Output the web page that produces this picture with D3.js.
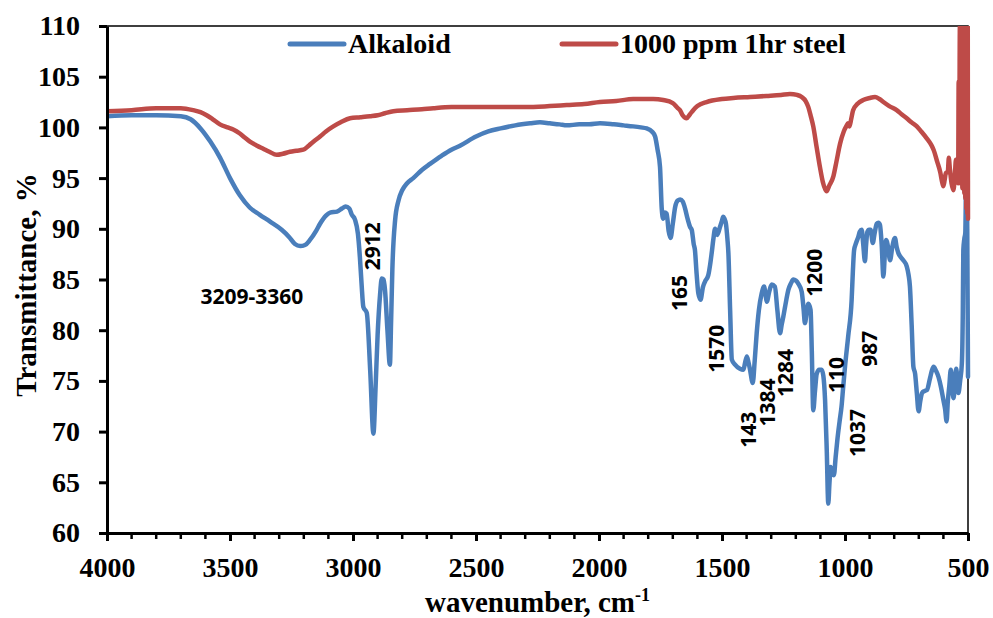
<!DOCTYPE html>
<html>
<head>
<meta charset="utf-8">
<script src="https://cdn.jsdelivr.net/npm/d3@7"></script>
<style>
  body { margin: 0; background: #fff; }
  svg { display: block; }
</style>
</head>
<body>
<svg width="993" height="618"></svg>
<script>
// wavenumber (cm-1) and transmittance (%)
const alkWn = [4000, 3900, 3800, 3700, 3660, 3620, 3580, 3540, 3500, 3460, 3420, 3380, 3337, 3290, 3260, 3236, 3215, 3195, 3175, 3150, 3134, 3110, 3093, 3065, 3045, 3030, 3015, 3005, 2992, 2980, 2972, 2965, 2958, 2944, 2930, 2917, 2908, 2900, 2890, 2883, 2876, 2870, 2860, 2850, 2845, 2840, 2829, 2815, 2800, 2780, 2755, 2720, 2687, 2640, 2600, 2565, 2500, 2450, 2400, 2340, 2280, 2240, 2200, 2160, 2131, 2080, 2040, 1996, 1940, 1900, 1861, 1830, 1806, 1785, 1772, 1762, 1752, 1745, 1739, 1732, 1725, 1717, 1709, 1700, 1690, 1680, 1670, 1660, 1650, 1640, 1630, 1623, 1615, 1610, 1603, 1596, 1587, 1578, 1569, 1556, 1548, 1542, 1535, 1528, 1519, 1508, 1500, 1495, 1490, 1484, 1478, 1474, 1467, 1460, 1447, 1427, 1413, 1406, 1399, 1392, 1386, 1375, 1367, 1359, 1350, 1339, 1329, 1323, 1318, 1308, 1298, 1285, 1275, 1264, 1257, 1251, 1240, 1230, 1220, 1210, 1200, 1190, 1176, 1168, 1163, 1156, 1149, 1140, 1135, 1129, 1122, 1115, 1105, 1095, 1088, 1081, 1074, 1068, 1063, 1058, 1052, 1045, 1038, 1031, 1022, 1014, 1007, 1000, 987, 973, 968, 963, 955, 946, 940, 932, 926, 919, 914, 909, 902, 896, 887, 880, 871, 864, 858, 851, 844, 838, 833, 825, 817, 807, 797, 790, 783, 773, 763, 749, 742, 736, 729, 722, 715, 708, 701, 694, 687, 677, 667, 655, 647, 640, 630, 620, 610, 600, 593, 587, 582, 576, 570, 565, 559, 553, 548, 543, 539, 532, 525, 521, 519, 515, 511, 507, 503, 500];
const alkT = [101.1, 101.2, 101.2, 101.1, 100.8, 99.9, 98.6, 97.0, 95.0, 93.3, 92.1, 91.4, 90.7, 89.9, 89.2, 88.5, 88.3, 88.4, 88.9, 89.8, 90.5, 91.3, 91.6, 91.7, 92.0, 92.2, 92.0, 91.4, 90.9, 89.5, 87.2, 84.5, 82.3, 81.7, 76.0, 69.8, 74.5, 79.5, 83.5, 85.1, 85.0, 84.0, 80.0, 76.6, 81.0, 86.0, 90.8, 92.8, 93.8, 94.5, 95.0, 95.8, 96.4, 97.2, 97.8, 98.2, 99.1, 99.6, 99.9, 100.2, 100.4, 100.5, 100.4, 100.3, 100.2, 100.3, 100.3, 100.4, 100.3, 100.2, 100.1, 100.0, 99.9, 99.6, 99.1, 97.8, 96.1, 92.0, 91.0, 91.6, 91.5, 89.8, 89.1, 90.5, 92.2, 92.8, 92.9, 92.7, 92.0, 91.0, 90.2, 89.9, 88.5, 87.9, 85.5, 83.6, 83.0, 84.2, 84.8, 85.4, 86.5, 87.6, 89.0, 90.0, 89.4, 90.2, 90.8, 91.2, 91.0, 90.5, 89.0, 87.6, 82.0, 77.1, 76.6, 76.2, 76.1, 76.8, 77.4, 76.8, 76.1, 74.8, 77.0, 79.7, 82.0, 83.6, 84.3, 83.5, 82.8, 83.8, 84.5, 84.3, 82.0, 79.7, 80.6, 81.3, 82.8, 84.0, 84.6, 85.0, 84.9, 84.6, 83.8, 82.0, 80.7, 81.7, 82.6, 82.0, 78.0, 72.1, 74.0, 75.7, 76.1, 76.1, 75.5, 73.1, 68.0, 62.9, 65.0, 66.5, 66.0, 65.7, 67.5, 69.2, 71.0, 72.5, 74.5, 76.4, 79.4, 83.0, 85.8, 87.9, 88.6, 89.2, 89.7, 89.9, 88.5, 86.8, 88.5, 89.7, 89.9, 89.9, 88.6, 89.5, 90.5, 90.6, 90.4, 88.5, 85.3, 87.5, 88.9, 88.2, 86.9, 88.3, 89.1, 88.2, 87.6, 87.2, 86.9, 86.3, 85.5, 84.3, 80.5, 76.4, 75.7, 73.8, 72.0, 73.0, 73.8, 74.0, 74.1, 75.2, 76.0, 76.4, 76.0, 75.4, 74.4, 73.1, 72.2, 71.0, 73.0, 74.5, 76.1, 74.8, 73.3, 74.7, 76.2, 75.0, 73.8, 75.0, 76.7, 82.0, 87.9, 89.0, 89.6, 95.8, 90.0, 75.4];

const steelWn = [4000, 3900, 3800, 3757, 3700, 3649, 3620, 3595, 3570, 3541, 3510, 3487, 3460, 3440, 3419, 3390, 3365, 3340, 3310, 3285, 3256, 3230, 3202, 3180, 3160, 3134, 3110, 3080, 3050, 3012, 2970, 2931, 2900, 2870, 2836, 2780, 2720, 2673, 2600, 2538, 2470, 2402, 2300, 2200, 2131, 2060, 1996, 1930, 1861, 1780, 1739, 1700, 1680, 1671, 1660, 1644, 1630, 1617, 1600, 1563, 1500, 1454, 1386, 1319, 1260, 1224, 1195, 1176, 1160, 1149, 1140, 1129, 1115, 1102, 1090, 1075, 1065, 1047, 1035, 1020, 1005, 993, 988, 982, 975, 967, 950, 926, 900, 878, 860, 844, 820, 790, 770, 749, 730, 708, 690, 667, 650, 640, 625, 613, 605, 600, 595, 590, 582, 578, 574, 567, 559, 553, 549, 543, 540, 538, 536, 533, 531, 529, 527, 525, 523, 521, 519, 517, 515, 513, 511, 509, 507, 505, 503, 501, 500];
const steelT = [101.6, 101.7, 101.9, 101.9, 101.9, 101.7, 101.5, 101.2, 100.8, 100.3, 100.0, 99.8, 99.4, 99.0, 98.6, 98.2, 97.9, 97.6, 97.3, 97.4, 97.6, 97.7, 97.8, 98.2, 98.6, 99.1, 99.6, 100.1, 100.5, 100.9, 101.0, 101.1, 101.2, 101.4, 101.6, 101.7, 101.8, 101.9, 102.0, 102.0, 102.0, 102.0, 102.0, 102.1, 102.2, 102.3, 102.5, 102.6, 102.8, 102.8, 102.7, 102.4, 101.9, 101.7, 101.2, 100.9, 101.3, 101.7, 102.1, 102.5, 102.8, 102.9, 103.0, 103.1, 103.2, 103.3, 103.2, 103.0, 102.6, 102.0, 101.2, 100.1, 98.0, 96.1, 94.6, 93.7, 94.2, 95.2, 96.6, 98.4, 99.6, 100.2, 100.4, 100.1, 100.8, 101.7, 102.3, 102.7, 102.9, 103.0, 102.8, 102.5, 102.1, 101.7, 101.3, 100.9, 100.5, 100.1, 99.6, 98.9, 98.3, 97.8, 96.6, 95.6, 94.6, 94.2, 94.8, 95.5, 95.6, 97.0, 96.0, 94.5, 93.8, 95.5, 96.8, 95.5, 94.5, 104.5, 95.0, 110.0, 94.5, 110.0, 95.0, 110.0, 94.0, 110.0, 95.0, 110.0, 93.5, 110.0, 93.0, 110.0, 92.0, 110.0, 91.5, 110.0, 91.0];

const seriesNames = ["Alkaloid", "1000 ppm 1hr steel"];
const seriesColors = ["#4A7EBB", "#BE4B48"];

const xTicks = [4000, 3500, 3000, 2500, 2000, 1500, 1000, 500];
const xMinorTicks = d3.range(600, 4000, 100).filter((v) => v % 500 !== 0);
const yTicks = [60, 65, 70, 75, 80, 85, 90, 95, 100, 105, 110];

// peak annotations: text, wavenumber and transmittance where the label starts
const peakText = ["2912", "165", "1570", "143", "1384", "1284", "1200", "110", "1037", "987"];
const peakWn = [2923, 1671, 1524, 1394, 1317, 1244, 1126, 1033, 951, 902];
const peakT = [85.9, 81.9, 75.8, 68.4, 70.5, 73.4, 83.3, 73.8, 67.5, 76.4];
const bandText = "3209-3360";
const bandWn = 3411, bandT = 82.6;

const svg = d3.select("svg");
const plotLeft = 107, plotRight = 968, plotTop = 26, plotBottom = 533;

const x = d3.scaleLinear().domain([4000, 500]).range([plotLeft, plotRight]);
const y = d3.scaleLinear().domain([60, 110]).range([plotBottom, plotTop]);

const serif = "'Liberation Serif', 'Times New Roman', serif";
const sans = "'Open Sans', 'Liberation Sans', sans-serif";

svg.append("clipPath").attr("id", "plot")
  .append("rect")
  .attr("x", plotLeft).attr("y", plotTop)
  .attr("width", plotRight - plotLeft + 3).attr("height", plotBottom - plotTop);

// frame top/right
svg.append("path")
  .attr("d", `M${plotLeft},${plotTop}H${plotRight}V${plotBottom}`)
  .attr("fill", "none").attr("stroke", "#000").attr("stroke-width", 1.5);

const line = d3.line()
  .x((d) => x(d[0]))
  .y((d) => y(d[1]))
  .curve(d3.curveMonotoneX);

const allSeries = [
  d3.zip(alkWn, alkT),
  d3.zip(steelWn, steelT)
];

svg.append("g").attr("clip-path", "url(#plot)")
  .selectAll("path")
  .data(allSeries)
  .join("path")
  .attr("d", line)
  .attr("fill", "none")
  .attr("stroke", (d, i) => seriesColors[i])
  .attr("stroke-width", 4.5)
  .attr("stroke-linejoin", "round")
  .attr("stroke-linecap", "round");

// minor x ticks
svg.append("g")
  .selectAll("line")
  .data(xMinorTicks)
  .join("line")
  .attr("x1", (d) => x(d)).attr("x2", (d) => x(d))
  .attr("y1", plotBottom).attr("y2", plotBottom + 6)
  .attr("stroke", "#000").attr("stroke-width", 2.5);

// x axis
const xAxis = svg.append("g")
  .attr("transform", `translate(0,${plotBottom})`)
  .call(d3.axisBottom(x).tickValues(xTicks).tickFormat(d3.format("d")).tickSize(8).tickSizeOuter(0));
xAxis.select(".domain").attr("stroke-width", 3);
xAxis.selectAll("line").attr("stroke-width", 3);
xAxis.selectAll("text")
  .attr("y", 44).attr("dy", null)
  .style("font-family", serif).style("font-size", "28px").style("font-weight", "bold")
  .attr("fill", "#000");

// y axis
const yAxis = svg.append("g")
  .attr("transform", `translate(${plotLeft},0)`)
  .call(d3.axisLeft(y).tickValues(yTicks).tickSize(8).tickSizeOuter(0));
yAxis.select(".domain").attr("stroke-width", 3);
yAxis.selectAll("line").attr("stroke-width", 3);
yAxis.selectAll("text")
  .attr("x", -27)
  .style("font-family", serif).style("font-size", "28px").style("font-weight", "bold")
  .attr("fill", "#000");

// axis titles
svg.append("text")
  .attr("transform", "translate(36,285) rotate(-90)")
  .attr("text-anchor", "middle")
  .style("font-family", serif).style("font-size", "29px").style("font-weight", "bold")
  .text("Transmittance, %");

const xt = svg.append("text")
  .attr("x", (plotLeft + plotRight) / 2).attr("y", 612)
  .attr("text-anchor", "middle")
  .style("font-family", serif).style("font-size", "29px").style("font-weight", "bold");
xt.append("tspan").text("wavenumber, cm");
xt.append("tspan").attr("dy", -11).style("font-size", "18px").text("-1");

// legend
const legendX = [290, 562];
const legend = svg.append("g").selectAll("g")
  .data(seriesNames)
  .join("g")
  .attr("transform", (d, i) => `translate(${legendX[i]},44)`);
legend.append("line")
  .attr("x1", 0).attr("x2", 54)
  .attr("stroke", (d, i) => seriesColors[i])
  .attr("stroke-width", 5).attr("stroke-linecap", "round");
legend.append("text")
  .attr("x", 58).attr("y", 9)
  .style("font-family", serif).style("font-size", "28px").style("font-weight", "bold")
  .text((d) => d);

// peak labels
svg.append("g").selectAll("text")
  .data(peakText)
  .join("text")
  .attr("transform", (d, i) => `translate(${x(peakWn[i])},${y(peakT[i])}) rotate(-90)`)
  .attr("dy", "0.36em")
  .style("font-family", sans).style("font-size", "21px").style("font-weight", "bold")
  .text((d) => d);

svg.append("text")
  .attr("x", x(bandWn)).attr("y", y(bandT))
  .attr("text-anchor", "middle")
  .style("font-family", sans).style("font-size", "21px").style("font-weight", "bold")
  .text(bandText);
</script>
</body>
</html>
